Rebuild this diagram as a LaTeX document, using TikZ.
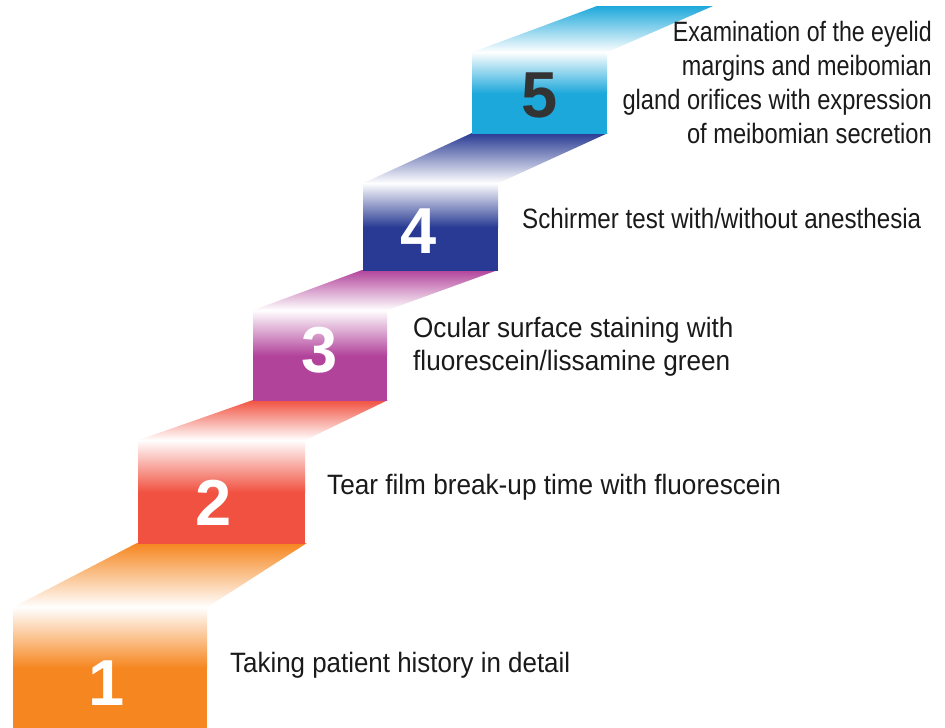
\documentclass[tikz,border=0pt]{standalone}
\usepackage{fontspec}
\setmainfont{Liberation Sans}[FakeStretch=0.89]
\newfontfamily\digitfont{Liberation Sans}
\definecolor{cOrange}{HTML}{F6861F}
\definecolor{cRed}{HTML}{F15140}
\definecolor{cMagenta}{HTML}{B2439B}
\definecolor{cBlue}{HTML}{283A93}
\definecolor{cCyan}{HTML}{1DA8DB}
\definecolor{cText}{HTML}{1A1A1A}
\definecolor{cDark}{HTML}{333333}
\newcommand\stairstep[8]{%
  \pgfmathsetmacro\ymid{#4+0.5*(#5-#4)}%
  \fill[#1] (#2,\ymid) rectangle (#3,#5);
  \shade[top color=white, bottom color=#1] (#2,#4) rectangle (#3,\ymid+0.5);
  \shade[top color=#1, bottom color=white] (#2,#4+0.3) -- (#3,#4+0.3) -- (#7,#8) -- (#6,#8) -- cycle;
}
\newcommand\sx[2]{\scalebox{#1}[1]{#2}}
\tikzset{
  label/.style={font=\fontsize{28}{34}\selectfont, text=cText, inner sep=0pt},
  digit/.style={font=\digitfont\bfseries\fontsize{65}{70}\selectfont, inner sep=0pt, anchor=base},
}
\begin{document}
\begin{tikzpicture}[x=1pt,y=-1pt]
\fill[white] (0,0) rectangle (945,728);
\useasboundingbox (0,0) rectangle (945,728);
\stairstep{cOrange}{13}{207}{607}{728}{137}{307}{543}
\stairstep{cRed}{138}{305}{440}{543.5}{253}{388}{400}
\stairstep{cMagenta}{253}{387}{310}{400.5}{362}{498}{270}
\stairstep{cBlue}{363}{498}{183}{270.5}{472}{608}{133}
\stairstep{cCyan}{472}{607}{52}{133.5}{597}{713}{6}
\node[digit, text=white] (d1) at (107,705) {1};
\node[digit, text=white] (d2) at (214,525) {2};
\node[digit, text=white] (d3) at (320,372) {3};
\node[digit, text=white] (d4) at (419,253) {4};
\node[digit, text=cDark] (d5) at (540,117) {5};
\node[label, anchor=base west] (t1) at (230,672) {\sx{1.04}{Taking patient history in detail}};
\node[label, anchor=base west] (t2) at (327,494) {\sx{1.05}{Tear film break-up time with fluorescein}};
\node[label, anchor=base west] (t3a) at (413,337) {\sx{1.046}{Ocular surface staining with}};
\node[label, anchor=base west] (t3b) at (413,370) {\sx{1.05}{fluorescein/lissamine green}};
\node[label, anchor=base west] (t4) at (522,228) {\sx{0.97}{Schirmer test with/without anesthesia}};
\node[label, anchor=base east] (t5a) at (932,41) {\sx{0.93}{Examination of the eyelid}};
\node[label, anchor=base east] (t5b) at (932,75) {\sx{0.94}{margins and meibomian}};
\node[label, anchor=base east] (t5c) at (932,109) {\sx{0.95}{gland orifices with expression}};
\node[label, anchor=base east] (t5d) at (932,143) {\sx{0.95}{of meibomian secretion}};
\end{tikzpicture}
\end{document}
